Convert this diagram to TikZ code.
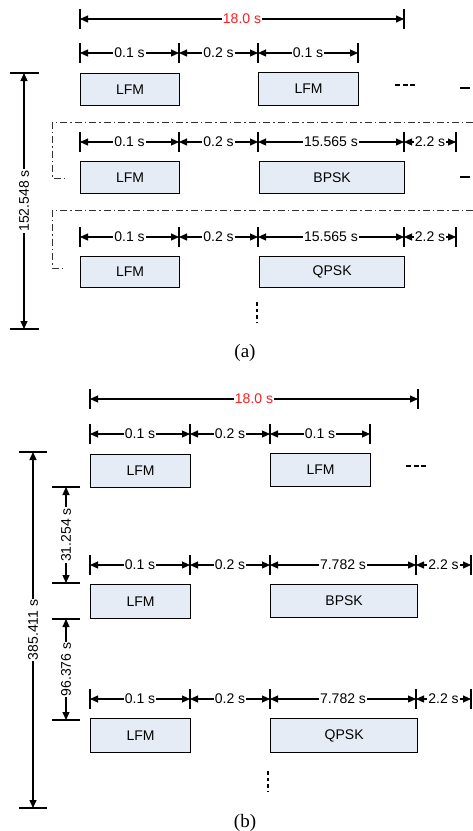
\documentclass[tikz,border=0pt]{standalone}
\usepackage{fontspec}
\setmainfont{Liberation Sans}
\newfontfamily\capfont{Liberation Serif}
\usetikzlibrary{arrows.meta}
\definecolor{boxfill}{RGB}{230,236,246}
\definecolor{dimred}{RGB}{250,30,30}
\tikzset{
 sig/.style={draw, fill=boxfill, line width=1.3, font=\fontsize{14}{16}\selectfont, inner sep=0, anchor=north west},
 dimline/.style={{Triangle[length=8,width=7]}-{Triangle[length=8,width=7]}, line width=1.1},
 ticksty/.style={line width=1.1},
 lbl/.style={fill=white, inner sep=1, font=\fontsize{14}{16}\selectfont},
 dashdot/.style={line width=0.9, dash pattern=on 7 off 3 on 1.5 off 3, draw=black!80},
 dotsty/.style={line width=2.6, dash pattern=on 3.5 off 3},
 capsty/.style={font=\capfont\fontsize{19}{21}\selectfont}
}
% horizontal dimension: name, x1, x2, y, label, extra label style
\newcommand\hdim[6]{%
 \coordinate (#1l) at (#2,#4); \coordinate (#1r) at (#3,#4);
 \draw[ticksty] (#2,#4-10) -- (#2,#4+10);
 \draw[ticksty] (#3,#4-10) -- (#3,#4+10);
 \draw[dimline] (#1l) -- node[lbl,#6]{#5} (#1r);}
% vertical dimension: name, x, y1, y2, half tick width, label
\newcommand\vdim[6]{%
 \coordinate (#1t) at (#2,#3); \coordinate (#1b) at (#2,#4);
 \draw[ticksty] (#2-#5,#3) -- (#2+#5,#3);
 \draw[ticksty] (#2-#5,#4) -- (#2+#5,#4);
 \draw[dimline] (#1t) -- node[lbl,rotate=90]{#6} (#1b);}
\begin{document}
\begin{tikzpicture}[x=1pt,y=-1pt]
\useasboundingbox (0,0) rectangle (473,831);
% ================= (a) =================
\hdim{aT}{80}{404}{19}{18.0 s}{text=dimred}
\hdim{a1d1}{80}{179}{53}{0.1 s}{}
\hdim{a1d2}{179}{258}{53}{0.2 s}{}
\hdim{a1d3}{258}{358}{53}{0.1 s}{}
\node[sig, minimum width=99, minimum height=32] (a1L) at (80,73) {LFM};
\node[sig, minimum width=100, minimum height=33] (a1M) at (258,72) {LFM};
\draw[line width=2.6, dash pattern=on 5 off 2.5] (395,85) -- (415,85);
\draw[line width=1.3] (460,88) -- (470,88);
\draw[dashdot] (473,122) -- (52,122) -- (52,178) -- (66,178);
\hdim{a2d1}{80}{179}{142}{0.1 s}{}
\hdim{a2d2}{179}{258}{142}{0.2 s}{}
\hdim{a2d3}{258}{404}{142}{15.565 s}{}
\hdim{a2d4}{404}{456}{142}{2.2 s}{}
\node[sig, minimum width=99, minimum height=32] (a2L) at (80,161) {LFM};
\node[sig, minimum width=145, minimum height=32] (a2M) at (259,161) {BPSK};
\draw[line width=1.3] (460,177) -- (470,177);
\draw[dashdot] (473,210) -- (52,210) -- (52,268) -- (66,268);
\hdim{a3d1}{80}{179}{237}{0.1 s}{}
\hdim{a3d2}{179}{258}{237}{0.2 s}{}
\hdim{a3d3}{258}{404}{237}{15.565 s}{}
\hdim{a3d4}{404}{456}{237}{2.2 s}{}
\node[sig, minimum width=99, minimum height=31] (a3L) at (80,256) {LFM};
\node[sig, minimum width=145, minimum height=31] (a3M) at (259,256) {QPSK};
\draw[dotsty] (257,302) -- (257,322);
\vdim{aV}{24}{73}{329}{14.5}{152.548 s}
\node[capsty] (capa) at (245,353) {(a)};
% ================= (b) =================
\hdim{bT}{90}{418}{399}{18.0 s}{text=dimred}
\hdim{b1d1}{90}{190}{434}{0.1 s}{}
\hdim{b1d2}{190}{270}{434}{0.2 s}{}
\hdim{b1d3}{270}{370}{434}{0.1 s}{}
\node[sig, minimum width=100, minimum height=33] (b1L) at (90,454) {LFM};
\node[sig, minimum width=100, minimum height=33] (b1M) at (270,453) {LFM};
\draw[line width=2.6, dash pattern=on 5 off 2.5] (406,466) -- (427,466);
\hdim{b2d1}{90}{190}{565}{0.1 s}{}
\hdim{b2d2}{190}{270}{565}{0.2 s}{}
\hdim{b2d3}{270}{416}{565}{7.782 s}{}
\hdim{b2d4}{416}{471}{565}{2.2 s}{}
\node[sig, minimum width=100, minimum height=34] (b2L) at (90,584) {LFM};
\node[sig, minimum width=147, minimum height=33] (b2M) at (270,584) {BPSK};
\hdim{b3d1}{90}{190}{699}{0.1 s}{}
\hdim{b3d2}{190}{270}{699}{0.2 s}{}
\hdim{b3d3}{270}{416}{699}{7.782 s}{}
\hdim{b3d4}{416}{471}{699}{2.2 s}{}
\node[sig, minimum width=100, minimum height=34] (b3L) at (90,718) {LFM};
\node[sig, minimum width=147, minimum height=34] (b3M) at (270,718) {QPSK};
\draw[dotsty] (268,771) -- (268,792);
\vdim{bV}{33}{452}{808}{14}{385.411 s}
\vdim{bV1}{66}{487}{583}{14}{31.254 s}
\vdim{bV2}{66}{619}{720}{14}{96.376 s}
\node[capsty] (capb) at (245,823) {(b)};
\end{tikzpicture}
\end{document}
